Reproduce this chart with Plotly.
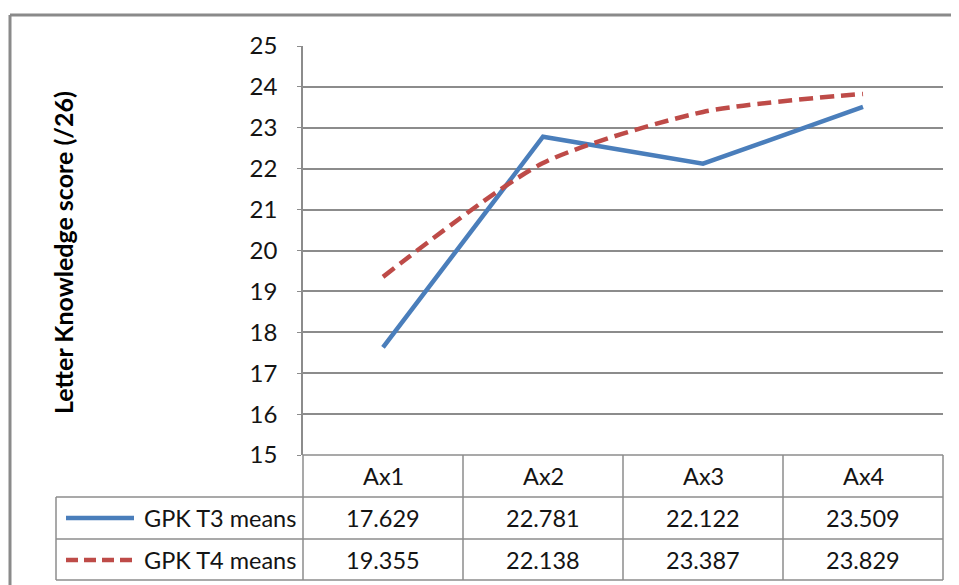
import plotly.graph_objects as go

categories = ["Ax1", "Ax2", "Ax3", "Ax4"]
series_names = ["GPK T3 means", "GPK T4 means"]
t3_means = [17.629, 22.781, 22.122, 23.509]
t4_means = [19.355, 22.138, 23.387, 23.829]
y_ticks = [15, 16, 17, 18, 19, 20, 21, 22, 23, 24, 25]
y_title = "Letter Knowledge score (/26)"

OFF = 8  # page body margin
W, H = 959 - OFF, 585 - OFF
FONT = "Lato"
TXT = "#141414"
GRID = "#8c8c8c"
BLUE = "#4a7ebb"
RED = "#be4b48"


def px(x):
    return (x - OFF) / W


def py(y):
    return 1 - (y - OFF) / H


fig = go.Figure()
fig.add_trace(go.Scatter(x=categories, y=t3_means, mode="lines", name=series_names[0],
                         line=dict(color=BLUE, width=4.5), showlegend=False))
fig.add_trace(go.Scatter(x=categories, y=t4_means, mode="lines", name=series_names[1],
                         line=dict(color=RED, width=4.5, dash="14px,7px", shape="spline", smoothing=0.7),
                         showlegend=False))

shapes = []
# outer chart border (top and left edges visible)
shapes.append(dict(type="line", xref="paper", yref="paper", x0=px(10), x1=px(959), y0=py(15), y1=py(15),
                   line=dict(color="#8a8a8a", width=3), layer="below"))
shapes.append(dict(type="line", xref="paper", yref="paper", x0=px(10), x1=px(10), y0=py(15), y1=py(585),
                   line=dict(color="#8a8a8a", width=3), layer="below"))


def hline(y, x0, x1):
    shapes.append(dict(type="line", xref="paper", yref="paper", x0=px(x0), x1=px(x1), y0=py(y), y1=py(y),
                       line=dict(color=GRID, width=1.5)))


def vline(x, y0, y1):
    shapes.append(dict(type="line", xref="paper", yref="paper", x0=px(x), x1=px(x), y0=py(y0), y1=py(y1),
                       line=dict(color=GRID, width=1.5)))


col_edges = [303, 463, 623, 783, 943]
row_edges = [455, 497, 539, 580]
hline(455, 303, 943)
for y in row_edges[1:]:
    hline(y, 56, 943)
vline(56, 497, 580)
for x in col_edges:
    vline(x, 455, 580)

# legend keys in the data table
shapes.append(dict(type="line", xref="paper", yref="paper", x0=px(66), x1=px(134), y0=py(518), y1=py(518),
                   line=dict(color=BLUE, width=4.5)))
shapes.append(dict(type="line", xref="paper", yref="paper", x0=px(66), x1=px(134), y0=py(560), y1=py(560),
                   line=dict(color=RED, width=4.5, dash="12px,6px")))

annotations = []
font = dict(family=FONT, size=23.5, color=TXT)
for i, c in enumerate(categories):
    annotations.append(dict(x=c, xref="x", y=py(476), yref="paper", text=c, showarrow=False,
                            xanchor="center", yanchor="middle", font=font))
    annotations.append(dict(x=c, xref="x", y=py(518), yref="paper", text=f"{t3_means[i]:.3f}",
                            showarrow=False, xanchor="center", yanchor="middle", font=font))
    annotations.append(dict(x=c, xref="x", y=py(560), yref="paper", text=f"{t4_means[i]:.3f}",
                            showarrow=False, xanchor="center", yanchor="middle", font=font))
for name, yy in zip(series_names, [518, 560]):
    annotations.append(dict(x=px(298), xref="paper", y=py(yy), yref="paper", text=name, showarrow=False,
                            xanchor="right", yanchor="middle", font=font))
annotations.append(dict(x=px(63), xref="paper", y=py(253), yref="paper", text="<b>" + y_title + "</b>",
                        textangle=-90, showarrow=False, xanchor="center", yanchor="middle",
                        font=dict(family=FONT, size=25, color="#000000")))

fig.update_layout(
    width=W, height=H,
    margin=dict(l=0, r=0, t=0, b=0),
    paper_bgcolor="white", plot_bgcolor="white",
    font=dict(family=FONT, color=TXT),
    shapes=shapes,
    annotations=annotations,
    xaxis=dict(domain=[px(303), px(943)], type="category", range=[-0.5, 3.5],
               showgrid=False, showticklabels=False, showline=False, zeroline=False, fixedrange=True),
    yaxis=dict(domain=[py(455), py(46)], range=[15, 25], tickvals=y_ticks,
               showgrid=True, gridcolor=GRID, gridwidth=1.5, zeroline=False,
               showline=True, linecolor=GRID, linewidth=1.5,
               ticks="outside", ticklen=4, tickcolor=GRID, ticklabelstandoff=15,
               tickfont=dict(family=FONT, size=24, color=TXT),
               automargin=False, fixedrange=True),
)

fig.write_html("out.html", config={"displayModeBar": False})
